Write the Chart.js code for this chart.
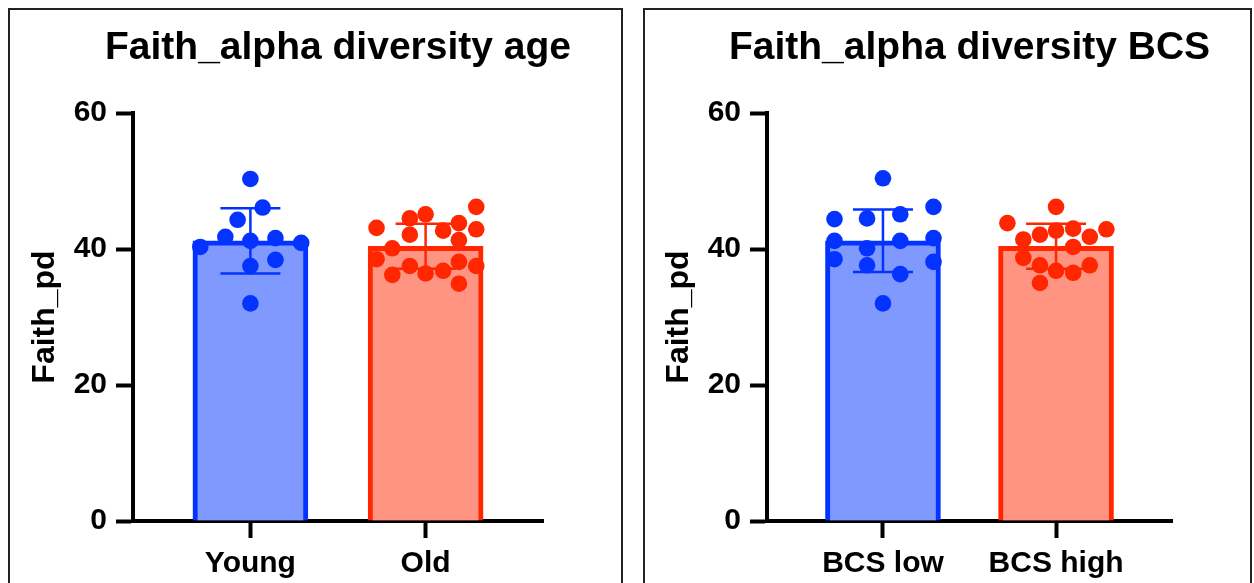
<!DOCTYPE html>
<html>
<head>
<meta charset="utf-8">
<script src="https://cdn.jsdelivr.net/npm/chart.js@4.4.0/dist/chart.umd.min.js"></script>
<style>
  html, body { margin: 0; padding: 0; background: #fff; overflow: hidden; }
  body { width: 1254px; height: 583px; position: relative; }
  .panel { position: absolute; top: 8px; height: 640px; border: 2px solid #222; box-sizing: border-box; }
  #panelAge { left: 8px; width: 615px; }
  #panelBcs { left: 643px; width: 609px; }
  .wrap { position: absolute; top: 0; height: 583px; }
  #wrapAge { left: 0; width: 622px; }
  #wrapBcs { left: 634px; width: 618px; }
</style>
</head>
<body>
<div class="panel" id="panelAge"></div>
<div class="panel" id="panelBcs"></div>
<div class="wrap" id="wrapAge"><canvas id="chartAge" width="622" height="583"></canvas></div>
<div class="wrap" id="wrapBcs"><canvas id="chartBcs" width="618" height="583"></canvas></div>
<script>
// ---- データ ----
const ageLabels = ['Young', 'Old'];
const ageMeans = [41.2, 40.4];
const ageSd = [4.8, 3.3];
const youngValues = [50.3, 46.1, 44.3, 41.8, 41.2, 41.6, 40.3, 40.9, 37.5, 38.4, 32.0];
const youngJitter = [0, 0.07, -0.073, -0.143, 0, 0.143, -0.286, 0.29, 0, 0.143, 0];
const oldValues = [46.2, 43.1, 44.5, 45.1, 43.8, 42.9, 42.1, 42.7, 41.3, 40.1, 38.5, 37.5, 36.4, 36.8, 38.1, 37.5, 36.2, 34.9];
const oldJitter = [0.289, -0.28, -0.09, 0, 0.19, 0.289, -0.09, 0.1, 0.19, -0.19, -0.28, -0.09, 0, 0.1, 0.19, 0.289, -0.19, 0.19];

const bcsLabels = ['BCS low', 'BCS high'];
const bcsMeans = [41.2, 40.4];
const bcsSd = [4.6, 3.3];
const bcsLowValues = [50.4, 46.2, 44.4, 44.5, 45.1, 41.2, 40.1, 41.2, 41.6, 38.5, 37.6, 38.1, 36.3, 32.0];
const bcsLowJitter = [0, 0.292, -0.28, -0.092, 0.1, -0.28, -0.092, 0.1, 0.292, -0.28, -0.092, 0.292, 0.1, 0];
const bcsHighValues = [46.2, 43.8, 42.9, 42.1, 42.7, 43.0, 41.8, 41.4, 40.3, 38.7, 37.6, 36.8, 36.5, 37.6, 35.0];
const bcsHighJitter = [0, -0.281, 0.291, -0.093, 0, 0.099, 0.195, -0.189, 0.099, -0.189, -0.093, 0, 0.099, 0.195, -0.093];

const yTicks = [0, 20, 40, 60];

const BLUE = '#0433ff';
const BLUE_FILL = '#7f99ff';
const RED = '#ff2600';
const RED_FILL = '#ff9482';
const FONT = '"Liberation Sans", Arial, Helvetica, sans-serif';

// エラーバー（平均 ± SD）を棒の後、点の前に描く
const errorBarPlugin = {
    id: 'errorBars',
    afterDatasetDraw(chart, args) {
        const ds = chart.data.datasets[args.index];
        if (!ds.errors) return;
        const ctx = chart.ctx;
        const x = chart.scales.x;
        const y = chart.scales.y;
        ctx.save();
        ctx.lineWidth = 2.5;
        ds.data.forEach((pt, i) => {
            const px = x.getPixelForValue(pt.x);
            const top = y.getPixelForValue(pt.y + ds.errors[i]);
            const bottom = y.getPixelForValue(pt.y - ds.errors[i]);
            ctx.strokeStyle = ds.borderColor[i];
            ctx.beginPath();
            ctx.moveTo(px, top);
            ctx.lineTo(px, bottom);
            ctx.moveTo(px - 30, top);
            ctx.lineTo(px + 30, top);
            ctx.moveTo(px - 30, bottom);
            ctx.lineTo(px + 30, bottom);
            ctx.stroke();
        });
        ctx.restore();
    }
};

// タイトルはプロット領域の中央に、幅を縮めずに描く
const panelTitlePlugin = {
    id: 'panelTitle',
    afterDraw(chart, args, opts) {
        const ctx = chart.ctx;
        const area = chart.chartArea;
        ctx.save();
        ctx.fillStyle = '#000';
        ctx.font = 'bold 39px ' + FONT;
        ctx.textAlign = 'center';
        ctx.textBaseline = 'middle';
        ctx.fillText(opts.text, (area.left + area.right) / 2, area.top - 65);
        ctx.restore();
    }
};

function toPoints(values, jitter, index) {
    return values.map((v, i) => ({ x: index + jitter[i], y: v }));
}

function makeChart(canvasId, title, labels, means, sd, groups, padRight) {
    const ctx = document.getElementById(canvasId).getContext('2d');
    return new Chart(ctx, {
        type: 'bar',
        plugins: [errorBarPlugin, panelTitlePlugin],
        data: {
            datasets: [
                {
                    type: 'scatter',
                    order: 1,
                    data: toPoints(groups[0].values, groups[0].jitter, 0),
                    pointRadius: 8.3,
                    pointBackgroundColor: BLUE,
                    pointBorderWidth: 0
                },
                {
                    type: 'scatter',
                    order: 1,
                    data: toPoints(groups[1].values, groups[1].jitter, 1),
                    pointRadius: 8.3,
                    pointBackgroundColor: RED,
                    pointBorderWidth: 0
                },
                {
                    type: 'bar',
                    order: 2,
                    data: means.map((m, i) => ({ x: i, y: m })),
                    errors: sd,
                    backgroundColor: [BLUE_FILL, RED_FILL],
                    borderColor: [BLUE, RED],
                    borderWidth: 5,
                    borderSkipped: 'start',
                    barThickness: 115
                }
            ]
        },
        options: {
            responsive: false,
            animation: false,
            layout: { padding: { left: 0, right: padRight, top: 113, bottom: 0 } },
            scales: {
                x: {
                    type: 'linear',
                    min: -0.67,
                    max: 1.67,
                    offset: false,
                    z: 1,
                    afterBuildTicks: (scale) => {
                        scale.ticks = labels.map((_, i) => ({ value: i }));
                    },
                    afterFit: (scale) => { scale.height = 62; },
                    ticks: {
                        callback: (value) => labels[value],
                        color: '#000',
                        font: { family: FONT, size: 30, weight: 'bold' },
                        padding: 8,
                        maxRotation: 0,
                        minRotation: 0,
                        autoSkip: false
                    },
                    grid: {
                        offset: false,
                        drawOnChartArea: false,
                        drawTicks: true,
                        tickLength: 17,
                        tickWidth: 4,
                        tickColor: '#000'
                    },
                    border: { color: '#000', width: 4 }
                },
                y: {
                    min: 0,
                    max: 60,
                    afterBuildTicks: (scale) => {
                        scale.ticks = yTicks.map(v => ({ value: v }));
                    },
                    afterFit: (scale) => { scale.width = 133; },
                    ticks: {
                        color: '#000',
                        font: { family: FONT, size: 30, weight: 'bold' },
                        padding: 9
                    },
                    grid: {
                        drawOnChartArea: false,
                        drawTicks: true,
                        tickLength: 17,
                        tickWidth: 4,
                        tickColor: '#000'
                    },
                    border: { color: '#000', width: 4 },
                    title: {
                        display: true,
                        text: 'Faith_pd',
                        color: '#000',
                        font: { family: FONT, size: 32, weight: 'bold' },
                        padding: { top: 26, bottom: 0 }
                    }
                }
            },
            plugins: {
                legend: { display: false },
                tooltip: { enabled: false },
                title: { display: false },
                panelTitle: { text: title }
            }
        }
    });
}

makeChart('chartAge', 'Faith_alpha diversity age', ageLabels, ageMeans, ageSd, [
    { values: youngValues, jitter: youngJitter },
    { values: oldValues, jitter: oldJitter }
], 79);

makeChart('chartBcs', 'Faith_alpha diversity BCS', bcsLabels, bcsMeans, bcsSd, [
    { values: bcsLowValues, jitter: bcsLowJitter },
    { values: bcsHighValues, jitter: bcsHighJitter }
], 80);
</script>
</body>
</html>
